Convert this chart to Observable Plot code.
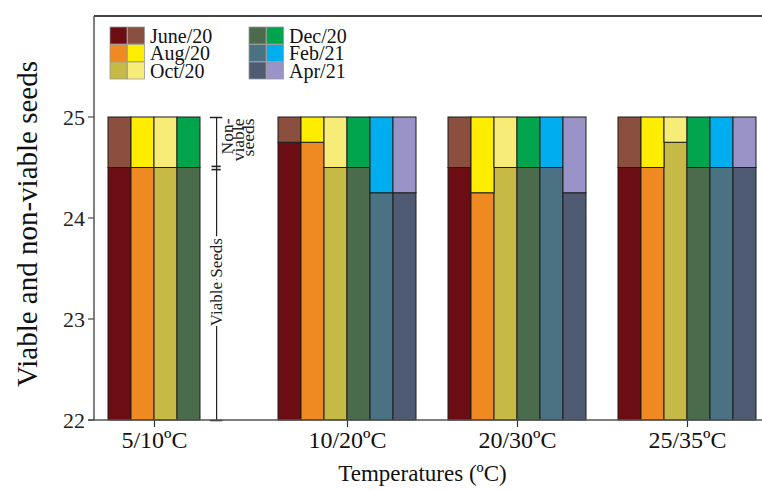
<!DOCTYPE html>
<html><head><meta charset="utf-8">
<script src="https://cdn.jsdelivr.net/npm/d3@7"></script>
<script src="https://cdn.jsdelivr.net/npm/@observablehq/plot@0.6"></script>
<style>
body{margin:0;background:#fff;}
#wrap{width:762px;height:491px;}
</style></head><body><div id="wrap"></div>
<script>
// ---- data ----
const groups = ["5/10ºC", "10/20ºC", "20/30ºC", "25/35ºC"];
const months = ["June/20", "Aug/20", "Oct/20", "Dec/20", "Feb/21", "Apr/21"];
const viableColors = ["#6b0d12", "#ef8a22", "#c6b946", "#4a6b4c", "#4a7283", "#4e5b73"];
const nonViableColors = ["#8a4f3e", "#ffed00", "#f8ec79", "#00a44c", "#00adee", "#9a93c8"];
const viable510 = [24.5, 24.5, 24.5, 24.5];
const viable1020 = [24.75, 24.75, 24.5, 24.5, 24.25, 24.25];
const viable2030 = [24.5, 24.25, 24.5, 24.5, 24.5, 24.25];
const viable2535 = [24.5, 24.5, 24.75, 24.5, 24.5, 24.5];
const totalSeeds = 25;
const yTicks = [22, 23, 24, 25];
const yDomain = [22, 26];
const yLabel = "Viable and non-viable seeds";
const xLabel = "Temperatures (ºC)";
const viableText = "Viable Seeds";
const nonViableText = "Non-\nviable\nseeds";

// ---- build table ----
const series = [viable510, viable1020, viable2030, viable2535];
const rows = [];
groups.forEach((g, gi) => series[gi].forEach((v, i) =>
  rows.push({group: g, i, month: months[i], viable: v, total: totalSeeds})));
const groupInfo = groups.map((g, gi) => ({group: g, center: series[gi].length / 2}));
const g0 = groups[0];
const nSlots = months.length;
const bracketX = nSlots - 1.3;   // bracket sits in the empty slots of the first group
const bracket = [{group: g0}];
const caps = [{group: g0, y: yDomain[0]}, {group: g0, y: totalSeeds}];
const split = [{group: g0, y: viable510[0]}];

const FONT = "Liberation Serif, Times New Roman, serif";
const W = 762, H = 491, ML = 94, MR = 5, MT = 16, MB = 71;

const plot = Plot.plot({
  width: W, height: H,
  marginLeft: ML, marginRight: MR, marginTop: MT, marginBottom: MB,
  style: {fontFamily: FONT, background: "white", color: "#222", overflow: "visible"},
  fx: {domain: groups, paddingInner: 0.1144, paddingOuter: 0, axis: null, label: null},
  x: {domain: [-0.565, nSlots], axis: null},
  y: {domain: yDomain, axis: null},
  marks: [
    Plot.rectY(rows, {fx: "group", x1: "i", x2: d => d.i + 1, y1: yDomain[0], y2: "viable",
      fill: d => viableColors[d.i], stroke: "#1c1c1c", strokeWidth: 1}),
    Plot.rectY(rows, {fx: "group", x1: "i", x2: d => d.i + 1, y1: "viable", y2: "total",
      fill: d => nonViableColors[d.i], stroke: "#1c1c1c", strokeWidth: 1}),
    // category ticks and labels
    Plot.ruleX(groupInfo, {fx: "group", x: "center", y1: yDomain[0], y2: yDomain[0], insetBottom: -7, stroke: "#333", strokeWidth: 1.2}),
    Plot.text(groupInfo, {fx: "group", x: "center", y: yDomain[0], text: "group", dy: 20,
      lineAnchor: "middle", fontSize: 24, fill: "#111"}),
    // bracket annotation
    Plot.ruleX(bracket, {fx: "group", x: bracketX, y1: yDomain[0], y2: totalSeeds, stroke: "#222", strokeWidth: 1.2}),
    Plot.ruleY(caps, {fx: "group", y: "y", x1: bracketX - 0.27, x2: bracketX + 0.27, stroke: "#222", strokeWidth: 1.5}),
    Plot.ruleY(split, {fx: "group", y: "y", x1: bracketX - 0.2, x2: bracketX + 0.2, dy: -1.6, stroke: "#222", strokeWidth: 1.6}),
    Plot.ruleY(split, {fx: "group", y: "y", x1: bracketX - 0.2, x2: bracketX + 0.2, dy: 1.6, stroke: "#222", strokeWidth: 1.6}),
    Plot.text(bracket, {fx: "group", x: bracketX, y: 23.37, text: () => viableText, rotate: -90,
      fontSize: 17, fill: "#222", stroke: "white", strokeWidth: 6, lineAnchor: "middle"}),
    Plot.text(bracket, {fx: "group", x: bracketX + 1.03, y: totalSeeds, text: () => nonViableText, rotate: -90,
      textAnchor: "end", lineAnchor: "middle", lineHeight: 0.6, fontSize: 17.5, fill: "#222", dy: 1})
  ]
});

document.getElementById("wrap").appendChild(plot);

// ---- frame, y axis, titles, legend (decoration positioned with Plot's scales) ----
const svg = d3.select(plot);
const y = plot.scale("y");
const yTop = y.apply(yDomain[1]), yBot = y.apply(yDomain[0]);
const deco = svg.append("g").attr("font-family", FONT).attr("text-anchor", "start");
deco.append("line").attr("x1", ML).attr("x2", W).attr("y1", yTop).attr("y2", yTop).attr("stroke", "#444").attr("stroke-width", 2);
deco.append("line").attr("x1", ML).attr("x2", ML).attr("y1", yTop).attr("y2", yBot).attr("stroke", "#555").attr("stroke-width", 1.5);
deco.append("line").attr("x1", ML - 6).attr("x2", W).attr("y1", yBot).attr("y2", yBot).attr("stroke", "#555").attr("stroke-width", 1.5);
yTicks.forEach(t => {
  const py = y.apply(t);
  deco.append("line").attr("x1", ML - 6).attr("x2", ML).attr("y1", py).attr("y2", py).attr("stroke", "#555").attr("stroke-width", 1.3);
  deco.append("text").attr("x", ML - 9).attr("y", py).attr("dy", "0.35em").attr("text-anchor", "end")
    .attr("font-size", 22).attr("fill", "#222").text(t);
});
deco.append("text").attr("transform", `translate(37,${(yTop + yBot) / 2 + 6}) rotate(-90)`)
  .attr("text-anchor", "middle").attr("font-size", 29).attr("fill", "#111").text(yLabel);
deco.append("text").attr("x", (ML + W - MR) / 2 - 3).attr("y", 481)
  .attr("text-anchor", "middle").attr("font-size", 23).attr("fill", "#111").text(xLabel);

// legend: two swatches (viable / non-viable) per month
const legend = deco.append("g");
months.forEach((m, i) => {
  const col = Math.floor(i / 3), row = i % 3;
  const lx = 110 + col * 139, ly = 27 + row * 17.5;
  legend.append("rect").attr("x", lx).attr("y", ly).attr("width", 17).attr("height", 17)
    .attr("fill", viableColors[i]).attr("stroke", "#999").attr("stroke-width", 0.8);
  legend.append("rect").attr("x", lx + 17.5).attr("y", ly).attr("width", 17).attr("height", 17)
    .attr("fill", nonViableColors[i]).attr("stroke", "#999").attr("stroke-width", 0.8);
  legend.append("text").attr("x", lx + 40).attr("y", ly + 15.5).attr("text-anchor", "start")
    .attr("font-size", 20).attr("fill", "#111").text(m);
});
</script></body></html>
